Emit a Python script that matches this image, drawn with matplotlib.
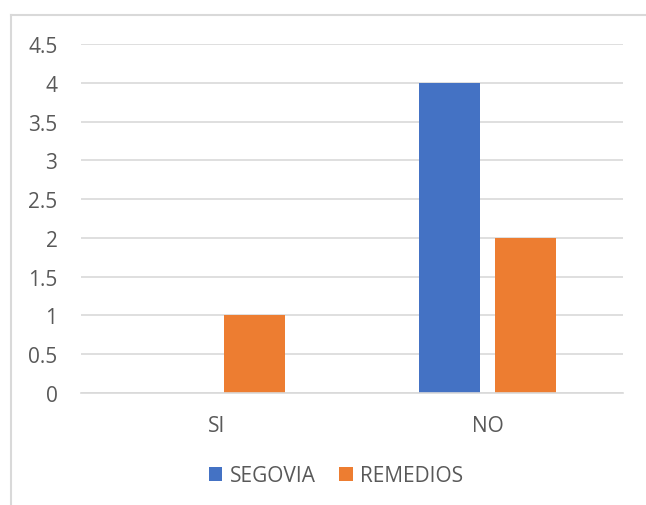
import numpy as np
import matplotlib.pyplot as plt
from matplotlib.lines import Line2D

categories = ["SI", "NO"]
segovia = [0, 4]
remedios = [1, 2]
yticks = [0, 0.5, 1, 1.5, 2, 2.5, 3, 3.5, 4, 4.5]

TEXT = "#595959"
GRID = "#D9D9D9"
FS = 15
plt.rcParams["font.family"] = ["Open Sans", "DejaVu Sans"]

fig = plt.figure(figsize=(6.46, 5.06), dpi=100)
W, H = 646, 506
ax = fig.add_axes([81 / W, 1 - 394 / H, (623 - 81) / W, (394 - 45) / H])

x = np.arange(len(categories))
width = 0.225
off = 0.282
ax.bar(x - off / 2, segovia, width, color="#4472C4", label="SEGOVIA", zorder=3)
ax.bar(x + off / 2, remedios, width, color="#ED7D31", label="REMEDIOS", zorder=3)

ax.set_xlim(-0.5, 1.5)
ax.set_ylim(0, 4.5)
ax.set_yticks(yticks)
ax.set_yticklabels([f"{t:g}" for t in yticks])
ax.set_xticks(x)
ax.set_xticklabels(categories)
ax.grid(axis="y", color=GRID, linewidth=1.2, zorder=0)
for s in ["top", "right", "left"]:
    ax.spines[s].set_visible(False)
ax.spines["bottom"].set_color(GRID)
ax.spines["bottom"].set_linewidth(1.2)
ax.spines["bottom"].set_zorder(4)
ax.tick_params(axis="both", length=0, colors=TEXT, labelsize=FS)
ax.tick_params(axis="y", pad=17)
ax.tick_params(axis="x", pad=16)

fig.legend(loc="center", bbox_to_anchor=(336 / W, 1 - 477 / H), ncol=2, frameon=False,
           fontsize=FS, labelcolor=TEXT, handlelength=0.63, handleheight=0.63,
           handletextpad=0.35, columnspacing=1.15)

# chart outline (left and top edges only are in view)
bx, by = 11 / W, 1 - 16 / H
fig.add_artist(Line2D([bx, bx], [0, by], transform=fig.transFigure, color=GRID, linewidth=1.5))
fig.add_artist(Line2D([bx, 1], [by, by], transform=fig.transFigure, color=GRID, linewidth=1.5))

fig.savefig("out.png", dpi=100)
